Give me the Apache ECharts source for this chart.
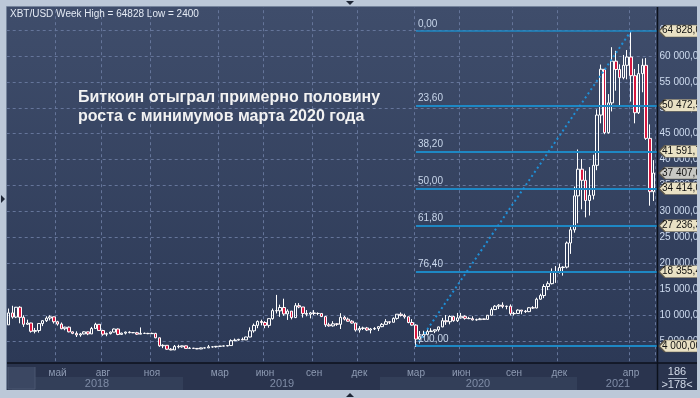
<!DOCTYPE html>
<html>
<head>
<meta charset="utf-8">
<script src="https://cdn.jsdelivr.net/npm/echarts@6/dist/echarts.min.js"></script>
<style>
html, body { margin: 0; padding: 0; background: #bcc8d8; }
#myChart { width: 700px; height: 398px; }
</style>
</head>
<body>
<div id="myChart"></div>
<script>
// недельные свечи XBT/USD, первая неделя начинается 2018-02-12
var firstWeek = Date.UTC(2018, 1, 12);
var opens = [
  8100, 10400, 9600, 11500, 9550, 8200, 8450, 6850, 7000, 8350,
  8900, 9400, 9650, 8700, 8250, 7350, 7650, 6750, 6450, 6150,
  6350, 6750, 6350, 7400, 8200, 7000, 6300, 6400, 6700, 7300,
  6250, 6500, 6700, 6600, 6580, 6300, 6450, 6450, 6400, 6450,
  5600, 4050, 4150, 3400, 3250, 3950, 3850, 4050, 3550, 3600,
  3550, 3450, 3650, 3650, 3850, 3850, 3950, 4000, 4030, 4100,
  5050, 5150, 5300, 5200, 5750, 6950, 8000, 8750, 8550, 8000,
  9300, 10850, 10800, 11450, 10200, 10750, 9500, 11800, 11550, 10300,
  10150, 10400, 10300, 10300, 9700, 8100, 7900, 8300, 8200, 9550,
  9200, 8800, 8450, 7100, 7400, 7500, 7100, 7300, 7400, 7750,
  8200, 8700, 8600, 9350, 10150, 9900, 9650, 8550, 8050, 5350,
  5800, 6250, 6800, 6900, 7150, 7700, 8900, 8700, 9700, 8900,
  9450, 9750, 9350, 9300, 9050, 9100, 9250, 9150, 9950, 11050,
  11700, 11900, 11650, 11700, 10250, 10300, 10950, 10750, 10650, 11400,
  11350, 13050, 13750, 15500, 16050, 18400, 18200, 19150, 19250, 23900,
  26450, 33000, 38150, 36000, 32100, 33100, 38900, 48600, 57450, 45200,
  50950, 59000, 57400, 55800, 58200, 59800, 56200, 49050, 56600, 58200,
  44100, 33800
];
var closes = [
  10400, 9600, 11500, 9550, 8200, 8450, 6850, 7000, 8350, 8900,
  9400, 9650, 8700, 8250, 7350, 7650, 6750, 6450, 6150, 6350,
  6750, 6350, 7400, 8200, 7000, 6300, 6400, 6700, 7300, 6250,
  6500, 6700, 6600, 6580, 6300, 6450, 6450, 6400, 6450, 5600,
  4050, 4150, 3400, 3250, 3950, 3850, 4050, 3550, 3600, 3550,
  3450, 3650, 3650, 3850, 3850, 3950, 4000, 4030, 4100, 5050,
  5150, 5300, 5200, 5750, 6950, 8000, 8750, 8550, 8000, 9300,
  10850, 10800, 11450, 10200, 10750, 9500, 11800, 11550, 10300, 10150,
  10400, 10300, 10300, 9700, 8100, 7900, 8300, 8200, 9550, 9200,
  8800, 8450, 7100, 7400, 7500, 7100, 7300, 7400, 7750, 8200,
  8700, 8600, 9350, 10150, 9900, 9650, 8550, 8050, 5350, 5800,
  6250, 6800, 6900, 7150, 7700, 8900, 8700, 9700, 8900, 9450,
  9750, 9350, 9300, 9050, 9100, 9250, 9150, 9950, 11050, 11700,
  11900, 11650, 11700, 10250, 10300, 10950, 10750, 10650, 11400, 11350,
  13050, 13750, 15500, 16050, 18400, 18200, 19150, 19250, 23900, 26450,
  33000, 38150, 36000, 32100, 33100, 38900, 48600, 57450, 45200, 50950,
  59000, 57400, 55800, 58200, 59800, 56200, 49050, 56600, 58200, 44100,
  33800, 37407
];
var lows = [
  8100, 9300, 9400, 8400, 7700, 8100, 6600, 6450, 6600, 7850,
  8650, 8950, 8350, 7950, 7250, 7050, 6650, 6300, 5750, 5800,
  6250, 6100, 6350, 7400, 6950, 6000, 5900, 6250, 6650, 6100,
  6200, 6250, 6450, 6500, 6150, 6300, 6380, 6300, 6350, 5500,
  3850, 3600, 3300, 3200, 3250, 3550, 3700, 3550, 3550, 3500,
  3400, 3400, 3550, 3650, 3700, 3700, 3850, 3950, 3950, 4100,
  4950, 5050, 5150, 5200, 5700, 6600, 7450, 8000, 7450, 7550,
  9100, 10300, 9650, 9850, 9050, 9150, 9400, 11300, 9500, 9750,
  9350, 10000, 9950, 9600, 7700, 7750, 7750, 7900, 7300, 8950,
  8700, 8350, 6800, 6600, 7100, 6900, 6450, 7100, 6900, 7650,
  8150, 8250, 8550, 9100, 9700, 9300, 8400, 7950, 3850, 4500,
  5700, 6150, 6750, 6500, 6800, 7650, 8100, 8200, 8700, 8650,
  9300, 9100, 9200, 8950, 8900, 9050, 9050, 9150, 9900, 10950,
  11150, 11300, 11100, 9900, 9900, 10200, 10150, 10400, 10550, 11200,
  11300, 12950, 13250, 14800, 15900, 16200, 18000, 17600, 19000, 21800,
  25900, 27700, 30400, 28850, 29200, 32300, 37950, 47000, 44900, 45000,
  49300, 53300, 50300, 55500, 55500, 51200, 47000, 48800, 53000, 43800,
  31100, 32000
];
var highs = [
  11250, 11780, 11550, 11700, 9950, 9100, 8500, 7500, 8450, 9000,
  9750, 9950, 9700, 8880, 8550, 7750, 7780, 6800, 6850, 6550,
  6850, 6800, 7700, 8500, 8250, 7150, 6600, 6800, 7400, 7400,
  6600, 6800, 6850, 6700, 6750, 7600, 6600, 6550, 6600, 6550,
  5600, 4350, 4200, 3600, 4200, 4250, 4100, 4100, 3800, 3650,
  3600, 3700, 3700, 4200, 3900, 4000, 4000, 4100, 4150, 5300,
  5450, 5400, 5650, 5800, 7600, 8350, 8950, 9100, 8800, 9400,
  11250, 13880, 12000, 13150, 11100, 10750, 12300, 12300, 11550, 10950,
  10600, 10950, 10500, 10350, 9700, 8500, 8800, 8400, 10350, 9800,
  9500, 9000, 8500, 7850, 7750, 7700, 7500, 7650, 7800, 8450,
  9200, 8750, 9550, 10150, 10500, 10250, 9700, 9200, 8200, 6900,
  6950, 7250, 7450, 7200, 7750, 9450, 10000, 9950, 9850, 10400,
  10400, 9950, 9650, 9750, 9300, 9450, 9300, 10000, 11450, 11900,
  12100, 12450, 11800, 12050, 10600, 11100, 10950, 10950, 11500, 11700,
  13350, 14100, 15950, 16500, 19000, 19450, 19900, 19400, 24200, 27100,
  34800, 41950, 40100, 37850, 38550, 40950, 49700, 58350, 57500, 52650,
  61700, 61000, 58400, 60200, 61150, 64828, 57500, 58450, 59500, 59600,
  46800, 39900
];

// уровни Фибоначчи: от минимума марта 2020 до максимума апреля 2021
var fibPct = ['0,00', '23,60', '38,20', '50,00', '61,80', '76,40', '100,00'];
var fibLevels = [64828, 50472.59, 41591.70, 34414, 27236.30, 18355.41, 4000];
var fibFromWeek = 108;
var fibTopWeek = 165;
var lastPrice = 37407;

// подписи месяцев (номер недели) и годов
var monthTicks = [13, 25, 38, 56, 68, 81, 93, 108, 120, 134, 146, 165];
var monthNames = ['май', 'авг', 'ноя', 'мар', 'июн', 'сен', 'дек', 'мар', 'июн', 'сен', 'дек', 'апр'];
var yearNames = ['2018', '2019', '2020', '2021'];

var weeks = [];
for (var i = 0; i < opens.length; i++) {
  weeks.push(new Date(firstWeek + i * 7 * 86400000).toISOString().slice(0, 10));
}
var candles = weeks.map(function (w, i) {
  return [opens[i], closes[i], lows[i], highs[i]];
});
var lastWeek = weeks[weeks.length - 1];

function fmt(v) {
  var p = v.toFixed(2).split('.');
  return p[0].replace(/\B(?=(\d{3})+(?!\d))/g, ' ') + ',' + p[1];
}

var fibLines = fibLevels.map(function (lvl, i) {
  return [
    {
      coord: [weeks[fibFromWeek], lvl],
      lineStyle: { color: '#1e88c4', width: i === 0 ? 1.5 : 2, type: 'solid' },
      label: { show: true, position: 'insideStartTop', distance: [2, 2], formatter: fibPct[i] }
    },
    { coord: [lastWeek, lvl], x: 657 }
  ];
});
var trend = [
  {
    coord: [weeks[fibFromWeek], fibLevels[6]],
    lineStyle: { color: '#1e90d8', width: 2, type: [2, 3] }
  },
  { coord: [weeks[fibTopWeek], fibLevels[0]] }
];

var tags = fibLevels.map(function (lvl) {
  return { coord: [lastWeek, lvl], x: 682, label: { formatter: fmt(lvl) } };
});
tags.push({
  coord: [lastWeek, lastPrice], x: 682,
  itemStyle: { color: '#c8c8c4' },
  label: { formatter: fmt(lastPrice) }
});

var dash = { color: '#65759a', width: 1, type: [3, 3] };
var frame = '#bcc8d8';
var plotGrad = new echarts.graphic.LinearGradient(0, 0, 0, 1, [
  { offset: 0, color: '#3f4d6b' },
  { offset: 1, color: '#2c3956' }
]);

var myChart = echarts.init(document.getElementById('myChart'));
myChart.setOption({
  animation: false,
  backgroundColor: frame,
  grid: { left: 6.7, top: 4.2, width: 648.8, height: 362.6, outerBoundsMode: 'none' },
  xAxis: {
    type: 'category',
    data: weeks,
    boundaryGap: true,
    axisLine: { show: false },
    axisTick: { show: false },
    axisLabel: {
      interval: function (idx) { return monthTicks.indexOf(idx) >= 0; },
      formatter: function (val, idx) {
        var k = monthTicks.indexOf(idx);
        return k >= 0 ? monthNames[k] : '';
      },
      color: '#8e9bb3',
      fontSize: 10,
      fontFamily: 'Liberation Sans, Arial',
      margin: 1
    },
    splitLine: {
      show: true,
      interval: function (idx) { return monthTicks.indexOf(idx) >= 0; },
      lineStyle: dash
    }
  },
  yAxis: {
    type: 'value',
    position: 'right',
    min: 0,
    max: 70000,
    interval: 5000,
    axisLine: { show: false },
    axisTick: { show: false },
    axisLabel: {
      margin: 4,
      color: '#cfdcf0',
      fontSize: 10,
      fontFamily: 'Liberation Sans, Arial',
      showMinLabel: false,
      showMaxLabel: false,
      formatter: fmt
    },
    splitLine: { show: true, showMinLine: false, showMaxLine: false, lineStyle: dash }
  },
  series: [
    {
      type: 'candlestick',
      data: candles,
      barWidth: 3,
      itemStyle: {
        color: 'rgba(0,0,0,0)',
        color0: '#d8173f',
        borderColor: '#ffffff',
        borderColor0: '#ffffff',
        borderWidth: 1
      },
      markLine: {
        silent: true,
        symbol: ['none', 'none'],
        label: {
          show: false,
          color: '#c8d6ea',
          fontSize: 10,
          fontFamily: 'Liberation Sans, Arial'
        },
        data: fibLines.concat([trend])
      },
      markPoint: {
        silent: true,
        symbol: 'path://M0,6L6,0L46,0L46,12L6,12Z',
        symbolSize: [46, 12],
        itemStyle: { color: '#e9e1c4', borderColor: '#5e584a', borderWidth: 1 },
        label: {
          show: true,
          position: [4, 6],
          align: 'left',
          verticalAlign: 'middle',
          color: '#111111',
          fontSize: 10,
          fontFamily: 'Liberation Sans, Arial'
        },
        data: tags
      }
    }
  ],
  graphic: [
    // фон графика и панелей
    { type: 'rect', z: -10, shape: { x: 7, y: 7, width: 650, height: 356 }, style: { fill: plotGrad } },
    { type: 'rect', z: -10, shape: { x: 658, y: 7, width: 39, height: 356 }, style: { fill: plotGrad } },
    { type: 'rect', z: -10, shape: { x: 7, y: 363, width: 690, height: 27 }, style: { fill: '#2a344e' } },
    { type: 'rect', z: 40, shape: { x: 7, y: 363, width: 650, height: 4 }, style: { fill: '#2a344e' } },
    { type: 'rect', z: -9, shape: { x: 12, y: 377, width: 171, height: 13 }, style: { fill: '#333f59' } },
    { type: 'rect', z: -9, shape: { x: 380, y: 377, width: 197, height: 13 }, style: { fill: '#333f59' } },
    { type: 'rect', z: -8, shape: { x: 8, y: 365, width: 27, height: 24 }, style: { fill: '#3b4762', stroke: '#4a5670' } },
    // годы
    { type: 'text', z: 41, x: 97, y: 378, style: { text: yearNames[0], fill: '#7f8ca6', font: '11px Liberation Sans', align: 'center' } },
    { type: 'text', z: 41, x: 282, y: 378, style: { text: yearNames[1], fill: '#7f8ca6', font: '11px Liberation Sans', align: 'center' } },
    { type: 'text', z: 41, x: 478, y: 378, style: { text: yearNames[2], fill: '#7f8ca6', font: '11px Liberation Sans', align: 'center' } },
    { type: 'text', z: 41, x: 618, y: 378, style: { text: yearNames[3], fill: '#7f8ca6', font: '11px Liberation Sans', align: 'center' } },
    // разделители
    { type: 'line', z: 45, shape: { x1: 7, y1: 363, x2: 697, y2: 363 }, style: { stroke: '#0c111c', lineWidth: 1.5 } },
    { type: 'line', z: 45, shape: { x1: 657.5, y1: 7, x2: 657.5, y2: 390 }, style: { stroke: '#0c111c', lineWidth: 1.5 } },
    // счётчик баров
    { type: 'text', z: 41, x: 677, y: 366, style: { text: '186', fill: '#d2dae8', font: '11px Liberation Sans', align: 'center' } },
    { type: 'line', z: 41, shape: { x1: 668, y1: 378.5, x2: 687, y2: 378.5 }, style: { stroke: '#aab6ca', lineWidth: 1 } },
    { type: 'text', z: 41, x: 677, y: 379, style: { text: '>178<', fill: '#d2dae8', font: '11px Liberation Sans', align: 'center' } },
    // рамка окна
    { type: 'rect', z: 100, shape: { x: 0, y: 0, width: 700, height: 6 }, style: { fill: frame } },
    { type: 'rect', z: 100, shape: { x: 0, y: 0, width: 6, height: 398 }, style: { fill: frame } },
    { type: 'rect', z: 100, shape: { x: 697, y: 0, width: 3, height: 398 }, style: { fill: frame } },
    { type: 'rect', z: 100, shape: { x: 0, y: 390, width: 700, height: 8 }, style: { fill: frame } },
    { type: 'rect', z: 99, shape: { x: 6.5, y: 6.5, width: 691, height: 384 }, style: { fill: null, stroke: '#75849c', lineWidth: 1 } },
    { type: 'polygon', z: 101, shape: { points: [[346, 1], [354, 1], [350, 5]] }, style: { fill: '#1e2636' } },
    { type: 'polygon', z: 101, shape: { points: [[346, 397], [354, 397], [350, 393]] }, style: { fill: '#1e2636' } },
    { type: 'polygon', z: 101, shape: { points: [[1, 195], [1, 203], [5, 199]] }, style: { fill: '#1e2636' } },
    // заголовок и комментарий
    { type: 'text', z: 50, x: 10, y: 9, style: { text: 'XBT/USD Week High = 64828 Low = 2400', fill: '#e4eaf4', font: '10px Liberation Sans' } },
    {
      type: 'text', z: 50, x: 78, y: 88,
      style: {
        text: 'Биткоин отыграл примерно половину\nроста с минимумов марта 2020 года',
        fill: '#f2f2f2',
        font: 'bold 16px Liberation Sans',
        lineHeight: 19
      }
    }
  ]
});
</script>
</body>
</html>
